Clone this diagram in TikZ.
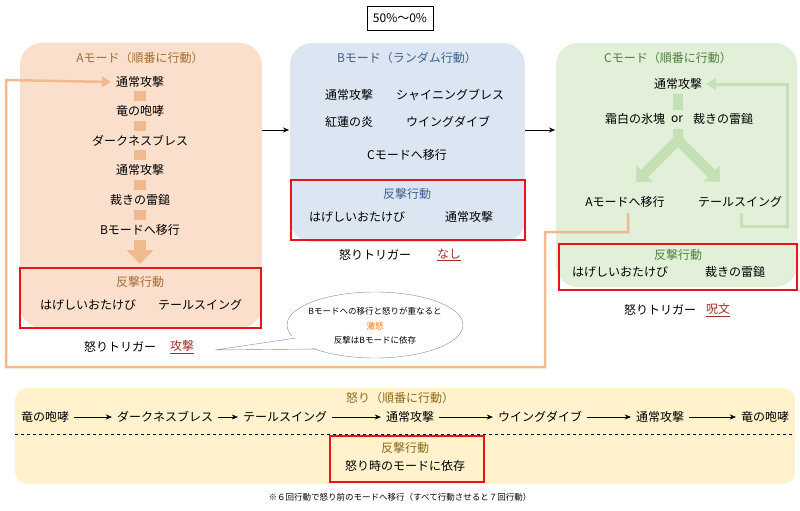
\documentclass[tikz,border=0pt]{standalone}
\usepackage{fontspec}
\setmainfont{Noto Sans CJK JP}
\usepackage{tikz}
\usetikzlibrary{arrows.meta,shapes.geometric}
\definecolor{peach}{HTML}{FAE0CC}
\definecolor{peachdk}{HTML}{F1B98E}
\definecolor{brownt}{HTML}{A86A34}
\definecolor{skyb}{HTML}{DCE6F2}
\definecolor{bluet}{HTML}{3F5F8F}
\definecolor{mint}{HTML}{E2EFD9}
\definecolor{mintdk}{HTML}{C5E0B4}
\definecolor{greent}{HTML}{4F7F3F}
\definecolor{cream}{HTML}{FFF2CC}
\definecolor{olivet}{HTML}{8F6A1F}
\definecolor{trig}{HTML}{A0302A}
\definecolor{redbox}{HTML}{E8141C}
\tikzstyle{mode}=[rounded corners=22pt, draw=none]
\tikzstyle{counter}=[draw=redbox, line width=2pt]
\tikzstyle{txt}=[font=\fontsize{12}{13}\selectfont, inner sep=1pt]
\tikzstyle{small}=[font=\fontsize{8.5}{10}\selectfont, inner sep=1pt]
\tikzstyle{link}=[-{Stealth[length=6pt,width=5pt]}, thin]
\begin{document}
\begin{tikzpicture}[x=1pt,y=-1pt]
	\useasboundingbox (0,0) rectangle (800,511);
	% title
	\node[draw, thin, minimum width=66pt, minimum height=24pt, font=\fontsize{12}{13}\selectfont] (pct) at (400,18) {50\%〜0\%};

	% mode A
	\fill[peach, mode] (20,43) rectangle (262,328);
	\node[txt, text=brownt] (atitle) at (140,58) {Aモード（順番に行動）};
	\node[txt] (a1) at (140,82) {通常攻撃};
	\node[txt] (a2) at (140,111) {竜の咆哮};
	\node[txt] (a3) at (140,141) {ダークネスブレス};
	\node[txt] (a4) at (140,170) {通常攻撃};
	\node[txt] (a5) at (140,200) {裁きの雷鎚};
	\node[txt] (a6) at (140,230) {Bモードへ移行};
	\foreach \y in {96,126,155,185,215}
		\fill[peachdk] (134,\y-5) rectangle (146,\y+5);
	\draw[peachdk, line width=12pt, -{Triangle[length=14pt,width=26pt]}] (140,240) -- (140,264);
	\draw[brownt, dashed, thin] (20,268) -- (262,268);
	\draw[counter] (20,268) rectangle (261,328);
	\node[txt, text=brownt] (acap) at (140,282) {反撃行動};
	\node[txt] (ac1) at (88,305) {はげしいおたけび};
	\node[txt] (ac2) at (200,305) {テールスイング};
	\node[txt] (atrig) at (120,347) {怒りトリガー};
	\node[txt, text=trig] (atrigv) at (182,347) {\underline{攻撃}};

	% mode B
	\fill[skyb, mode] (290,43) rectangle (525,242);
	\node[txt, text=bluet] (btitle) at (407,58) {Bモード（ランダム行動）};
	\node[txt] (b1) at (349,95) {通常攻撃};
	\node[txt] (b2) at (450,95) {シャイニングブレス};
	\node[txt] (b3) at (349,122) {紅蓮の炎};
	\node[txt] (b4) at (448,122) {ウイングダイブ};
	\node[txt] (b5) at (407,155) {Cモードへ移行};
	\draw[counter] (291,180) rectangle (525,240);
	\node[txt, text=bluet] (bcap) at (407,194) {反撃行動};
	\node[txt] (bc1) at (357,217) {はげしいおたけび};
	\node[txt] (bc2) at (469,217) {通常攻撃};
	\node[txt] (btrig) at (375,255) {怒りトリガー};
	\node[txt, text=trig] (btrigv) at (449,255) {\underline{なし}};

	% mode C
	\fill[mint, mode] (556,43) rectangle (797,287);
	\node[txt, text=greent] (ctitle) at (668,58) {Cモード（順番に行動）};
	\node[txt] (c1) at (678,84) {通常攻撃};
	\node[txt] (c2) at (635,119) {霜白の氷塊};
	\node[txt] (cor) at (677,119) {or};
	\node[txt] (c3) at (723,119) {裁きの雷鎚};
	\node[txt] (c4) at (625,202) {Aモードへ移行};
	\node[txt] (c5) at (740,202) {テールスイング};
	\draw[mintdk, line width=10pt] (678,94) -- (678,110);
	\draw[mintdk, line width=10pt, line join=miter, -{Triangle[length=12pt,width=22pt]}] (678,129) -- (678,140) -- (636,182);
	\draw[mintdk, line width=10pt, -{Triangle[length=12pt,width=22pt]}] (678,140) -- (720,182);
	\draw[mintdk, line width=3pt, -{Triangle[length=10pt,width=12pt]}] (741,213) -- (741,226) -- (787,226) -- (787,84) -- ([xshift=3pt]c1.east);
	\draw[counter] (559,244) rectangle (797,290);
	\node[txt, text=greent] (ccap) at (678,255) {反撃行動};
	\node[txt] (cc1) at (620,272) {はげしいおたけび};
	\node[txt] (cc2) at (735,272) {裁きの雷鎚};
	\node[txt] (ctrig) at (660,310) {怒りトリガー};
	\node[txt, text=trig] (ctrigv) at (718,310) {\underline{呪文}};

	% mode transitions
	\draw[link] (262,130) -- (289,130);
	\draw[link] (525,130) -- (555,130);
	\draw[peachdk, line width=2.5pt, -{Triangle[length=9pt,width=11pt]}] (628,213) -- (628,232) -- (545,232) -- (545,367) -- (6,367) -- (6,80) -- ([xshift=-4pt]a1.west);

	% speech bubble
	\draw[bluet!70, thin, fill=white] (375,325) ellipse (88 and 33);
	\fill[white] (300,335) -- (215,350) -- (318,348) -- cycle;
	\draw[bluet!70, thin] (296,338) -- (215,350) -- (318,349);
	\node[small] (bub1) at (375,311) {Bモードへの移行と怒りが重なると};
	\node[small, text=orange!90!red] (bub2) at (375,326) {激怒};
	\node[small] (bub3) at (375,340) {反撃はBモードに依存};

	% rage
	\fill[cream, rounded corners=12pt] (15,388) rectangle (795,484);
	\node[txt, text=olivet] (rtitle) at (400,398) {怒り（順番に行動）};
	\node[txt] (r1) at (45,417) {竜の咆哮};
	\node[txt] (r2) at (165,417) {ダークネスブレス};
	\node[txt] (r3) at (285,417) {テールスイング};
	\node[txt] (r4) at (410,417) {通常攻撃};
	\node[txt] (r5) at (540,417) {ウイングダイブ};
	\node[txt] (r6) at (660,417) {通常攻撃};
	\node[txt] (r7) at (765,417) {竜の咆哮};
	\foreach \a/\b in {r1/r2,r2/r3,r3/r4,r4/r5,r5/r6,r6/r7}
		\draw[link] ([xshift=4pt]\a.east) -- ([xshift=-4pt]\b.west);
	\draw[dashed, thin] (15,434) -- (795,434);
	\draw[counter] (330,436) rectangle (484,482);
	\node[txt, text=olivet] (rcap) at (405,448) {反撃行動};
	\node[txt] (rc1) at (405,466) {怒り時のモードに依存};

	\node[small] (note) at (400,497) {※６回行動で怒り前のモードへ移行（すべて行動させると７回行動）};
\end{tikzpicture}
\end{document}
